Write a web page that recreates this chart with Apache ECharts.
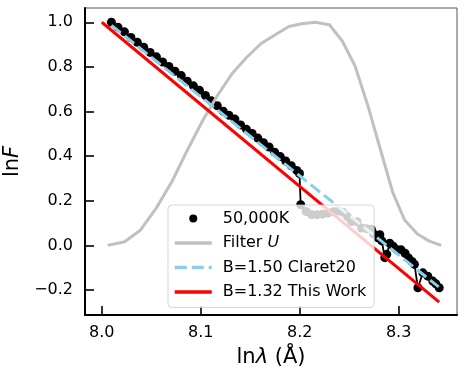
<!DOCTYPE html>
<html>
<head>
<meta charset="utf-8">
<script src="https://cdn.jsdelivr.net/npm/echarts@6/dist/echarts.min.js"></script>
<style>
  html, body { margin: 0; padding: 0; background: #fff; }
  #chart { width: 466px; height: 380px; }
</style>
</head>
<body>
<div id="chart"></div>
<script>
// spectrum of the 50,000K model, ln(lambda) vs ln F
const specX = [8.0097, 8.0163, 8.0229, 8.0294, 8.0359, 8.0424, 8.0488, 8.0552, 8.0615, 8.0678,
  8.0740, 8.0803, 8.0864, 8.0926, 8.0987, 8.1047, 8.1107, 8.1167, 8.1227, 8.1286,
  8.1345, 8.1403, 8.1461, 8.1519, 8.1577, 8.1634, 8.1691, 8.1747, 8.1804, 8.1859,
  8.1915, 8.1970, 8.1998, 8.2010, 8.2065, 8.2120, 8.2175, 8.2230, 8.2285, 8.2340,
  8.2390, 8.2440, 8.2485, 8.2525, 8.2580, 8.2625, 8.2675, 8.2725, 8.2745, 8.2790,
  8.2810, 8.2830, 8.2860, 8.2880, 8.2910, 8.2945, 8.2980, 8.3025, 8.3065, 8.3100,
  8.3135, 8.3160, 8.3195, 8.3245, 8.3295, 8.3345, 8.3375, 8.3410];
const specY = [1.000, 0.978, 0.957, 0.932, 0.910, 0.888, 0.865, 0.845, 0.822, 0.802,
  0.781, 0.761, 0.736, 0.715, 0.695, 0.672, 0.648, 0.626, 0.601, 0.583,
  0.566, 0.540, 0.521, 0.502, 0.481, 0.460, 0.441, 0.418, 0.398, 0.378,
  0.357, 0.336, 0.322, 0.182, 0.152, 0.138, 0.137, 0.140, 0.145, 0.151,
  0.154, 0.148, 0.128, 0.107, 0.106, 0.078, 0.075, 0.072, 0.052, 0.034,
  0.048, 0.020, -0.055, -0.040, 0.010, -0.004, -0.018, -0.020, -0.035, -0.056,
  -0.072, -0.085, -0.190, -0.123, -0.138, -0.160, -0.172, -0.190];

// Bessell U filter curve (normalised)
const filterX = [8.006, 8.023, 8.039, 8.055, 8.071, 8.086, 8.102, 8.117, 8.132, 8.146,
  8.161, 8.175, 8.189, 8.202, 8.216, 8.230, 8.243, 8.256, 8.269, 8.282,
  8.294, 8.306, 8.319, 8.331, 8.343];
const filterY = [0.000, 0.016, 0.068, 0.167, 0.287, 0.423, 0.560, 0.673, 0.772, 0.841,
  0.905, 0.943, 0.981, 0.993, 1.000, 0.989, 0.916, 0.804, 0.625, 0.423,
  0.238, 0.114, 0.051, 0.019, 0.000];

// fitted lines
const claretX = [8.0097, 8.3405];
const claretY = [0.986, -0.186];
const workX = [8.000, 8.341];
const workY = [1.000, -0.254];

const xTicks = [8.0, 8.1, 8.2, 8.3];
const yTicks = [-0.2, 0.0, 0.2, 0.4, 0.6, 0.8, 1.0];

const zip = (xs, ys) => xs.map((x, i) => [x, ys[i]]);
const font = 'DejaVu Sans';

let myChart = echarts.init(document.getElementById('chart'));
const option = {
  animation: false,
  textStyle: { fontFamily: font },
  grid: {
    left: 85, right: 9, top: 8, bottom: 65,
    outerBoundsMode: 'none',
    containLabel: false,
    show: true, borderColor: '#555', borderWidth: 1
  },
  legend: {
    orient: 'vertical',
    left: 168, top: 205,
    padding: [4, 8, 6, 5],
    itemGap: 5.5,
    itemWidth: 37,
    itemHeight: 10,
    backgroundColor: 'rgba(255,255,255,0.8)',
    borderColor: 'rgba(204,204,204,0.8)',
    borderWidth: 1,
    borderRadius: 4,
    z: 10,
    textStyle: { fontFamily: font, fontSize: 16, color: '#000', lineHeight: 19, padding: [0, 0, 0, 6],
      rich: { i: { fontFamily: font, fontSize: 16, fontStyle: 'italic', lineHeight: 19 } } },
    formatter: name => name === 'Filter U' ? 'Filter {i|U}' : name,
    data: [
      { name: '50,000K', lineStyle: { opacity: 0 } },
      { name: 'Filter U', itemStyle: { opacity: 0 }, lineStyle: { width: 3.5 } },
      { name: 'B=1.50 Claret20', itemStyle: { opacity: 0 }, lineStyle: { width: 3.5 } },
      { name: 'B=1.32 This Work', itemStyle: { opacity: 0 }, lineStyle: { width: 3.5 } }
    ]
  },
  xAxis: {
    type: 'value',
    min: 7.983, max: 8.359,
    name: 'ln{i|λ} (Å)',
    nameLocation: 'middle',
    nameGap: 32,
    nameTextStyle: { fontFamily: font, fontSize: 21, color: '#000',
      rich: { i: { fontFamily: font, fontSize: 21, fontStyle: 'italic' } } },
    axisLine: { onZero: false, lineStyle: { color: '#000', width: 2 } },
    axisTick: { inside: true, length: 9, customValues: xTicks, lineStyle: { color: '#000', width: 1.6 } },
    axisLabel: { customValues: xTicks, fontSize: 16, color: '#000', margin: 10,
      formatter: v => v.toFixed(1) },
    splitLine: { show: false }
  },
  yAxis: {
    type: 'value',
    min: -0.312, max: 1.064,
    name: 'ln{i|F}',
    nameLocation: 'middle',
    nameGap: 52,
    nameTextStyle: { fontFamily: font, fontSize: 21, color: '#000',
      rich: { i: { fontFamily: font, fontSize: 21, fontStyle: 'italic' } } },
    axisLine: { onZero: false, lineStyle: { color: '#000', width: 2 } },
    axisTick: { inside: true, length: 9, customValues: yTicks, lineStyle: { color: '#000', width: 1.6 } },
    axisLabel: { customValues: yTicks, fontSize: 16, color: '#000', margin: 12,
      formatter: v => (v < 0 ? '\u2212' : '') + Math.abs(v).toFixed(1) },
    splitLine: { show: false }
  },
  series: [
    {
      name: '50,000K', type: 'line', z: 2,
      data: zip(specX, specY),
      symbol: 'circle', symbolSize: 9, showSymbol: true,
      itemStyle: { color: '#000' },
      lineStyle: { color: '#000', width: 1.8 }
    },
    {
      name: 'Filter U', type: 'line', z: 3,
      data: zip(filterX, filterY),
      showSymbol: false,
      itemStyle: { color: '#c0c0c0' },
      lineStyle: { color: '#c0c0c0', width: 3 }
    },
    {
      name: 'B=1.50 Claret20', type: 'line', z: 4,
      data: zip(claretX, claretY),
      showSymbol: false,
      itemStyle: { color: '#87ceeb' },
      lineStyle: { color: '#87ceeb', width: 3, type: [12, 5] }
    },
    {
      name: 'B=1.32 This Work', type: 'line', z: 5,
      data: zip(workX, workY),
      showSymbol: false,
      itemStyle: { color: '#ff0000' },
      lineStyle: { color: '#ff0000', width: 3 }
    }
  ]
};
myChart.setOption(option);
</script>
</body>
</html>
